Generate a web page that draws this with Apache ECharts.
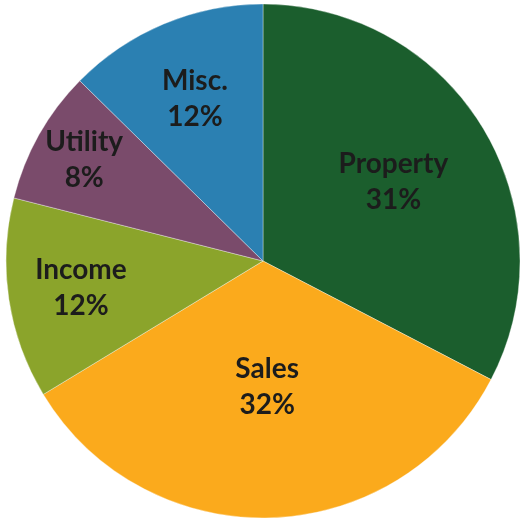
<!DOCTYPE html>
<html>
<head>
<meta charset="utf-8">
<script src="https://cdn.jsdelivr.net/npm/echarts@6/dist/echarts.min.js"></script>
<style>
  html, body { margin: 0; padding: 0; background: #ffffff; }
  #chart { width: 523px; height: 519px; }
</style>
</head>
<body>
<div id="chart"></div>
<script>
// Tax revenue shares by source, clockwise from 12 o'clock
const categories = ['Property', 'Sales', 'Income', 'Utility', 'Misc.'];
const shares = [31, 32, 12, 8, 12];
const sliceColors = ['#1b5e2d', '#fbaa1c', '#8ba42b', '#7a4b6b', '#2b80b2'];
// how far out each label sits, as a fraction of the radius
const labelRadius = [0.58, 0.48, 0.7, 0.78, 0.67];

const PIE_CENTER = [263, 261];
const PIE_RADIUS = 257;

const chart = echarts.init(document.getElementById('chart'), null, { renderer: 'canvas' });

chart.setOption({
  backgroundColor: '#ffffff',
  animation: false,
  series: [{
    type: 'pie',
    center: PIE_CENTER,
    radius: [0, PIE_RADIUS],
    startAngle: 90,
    clockwise: true,
    avoidLabelOverlap: false,
    itemStyle: { borderColor: 'rgba(255,255,255,0.35)', borderWidth: 1 },
    label: {
      show: true,
      position: 'inner',
      formatter: p => p.name + '\n' + p.value + '%',
      fontFamily: 'Lato',
      fontWeight: 'bold',
      fontSize: 28,
      lineHeight: 36,
      color: '#1c1c1c',
      align: 'center'
    },
    // inner labels start at half the radius; push each one along its own
    // slice direction to the wanted fraction
    labelLayout: function (params) {
      const r = params.labelRect;
      const lx = r.x + r.width / 2 - PIE_CENTER[0];
      const ly = r.y + r.height / 2 - PIE_CENTER[1];
      const k = labelRadius[params.dataIndex] / 0.5 - 1;
      return { dx: lx * k, dy: ly * k };
    },
    labelLine: { show: false },
    emphasis: { disabled: true },
    data: categories.map((name, i) => ({
      name,
      value: shares[i],
      itemStyle: { color: sliceColors[i] }
    }))
  }]
});
</script>
</body>
</html>
